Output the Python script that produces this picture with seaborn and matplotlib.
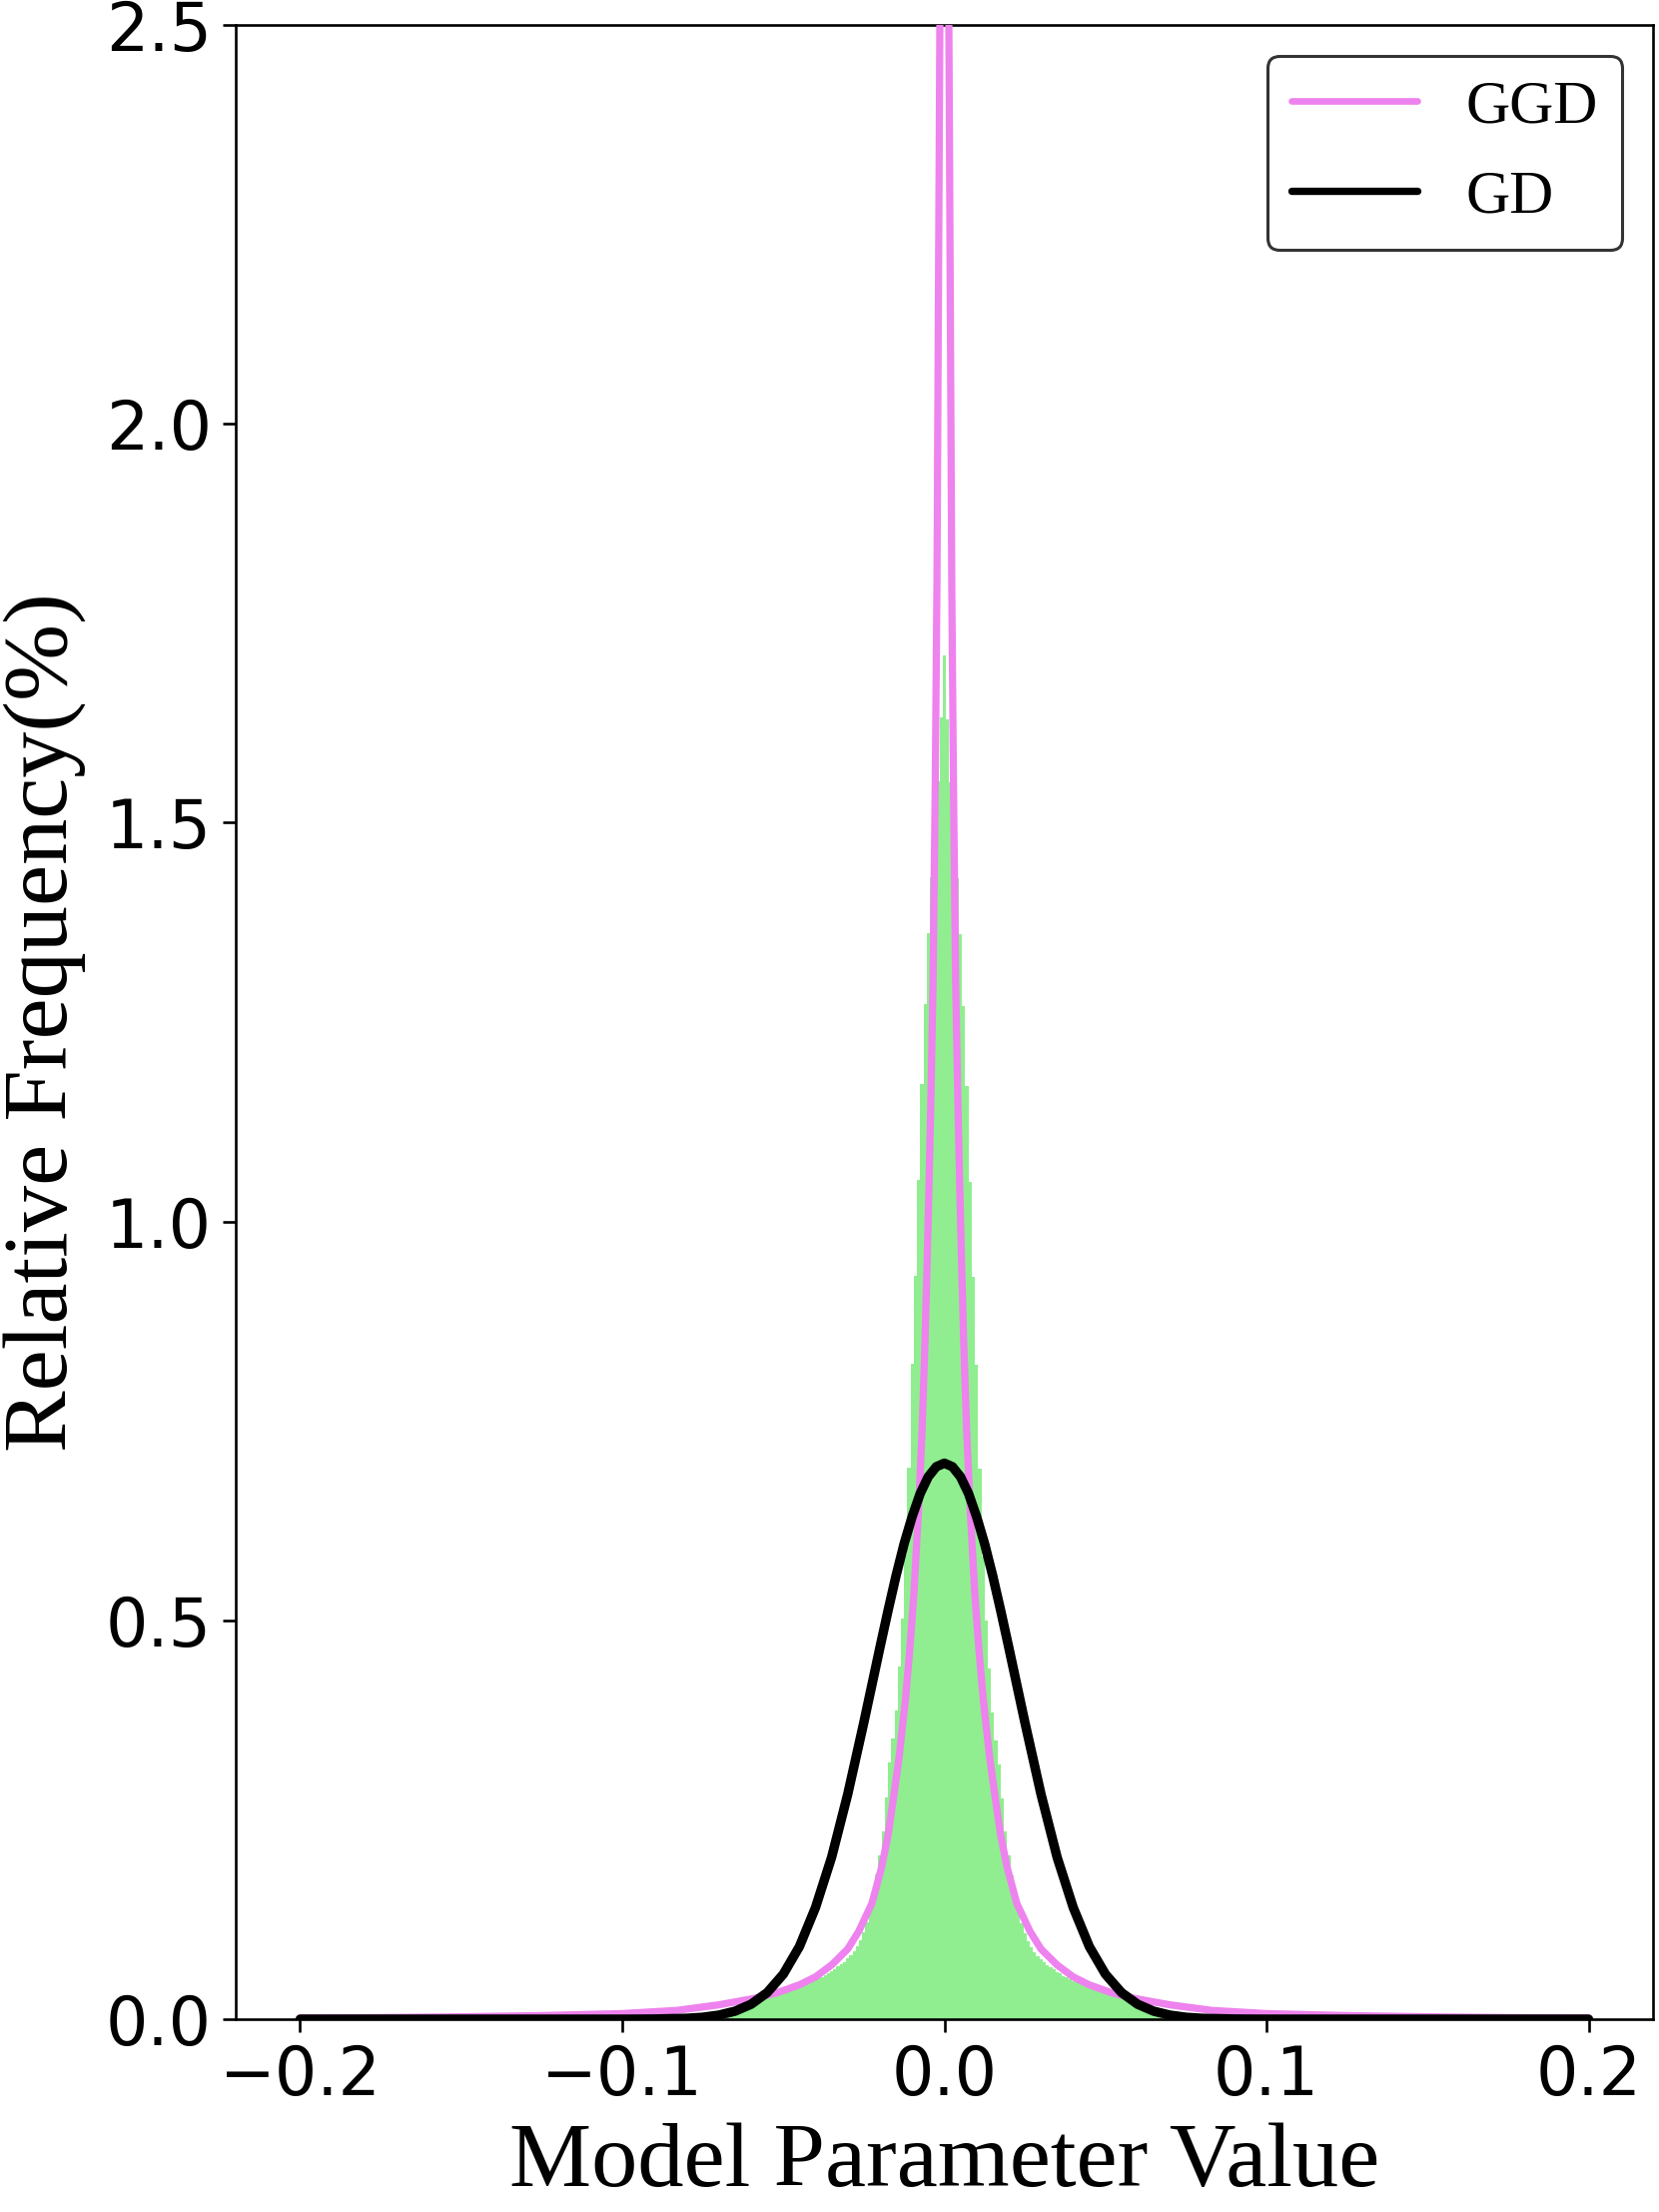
import numpy as np
import pandas as pd
import matplotlib
matplotlib.use("Agg")
import matplotlib.pyplot as plt
import seaborn as sns

# ---------------- data ----------------
# histogram: bin width 0.001, bins centred on k*0.001, k = -67 .. 67
hist_bin_width = 0.001
hist_first_center = -0.067
hist_heights = [
    0.002, 0.005, 0.008, 0.013, 0.020, 0.023, 0.025, 0.027, 0.027, 0.029,
    0.029, 0.031, 0.031, 0.033, 0.033, 0.035, 0.035, 0.037, 0.037, 0.039,
    0.039, 0.041, 0.041, 0.043, 0.044, 0.046, 0.047, 0.049, 0.051, 0.053,
    0.055, 0.058, 0.060, 0.063, 0.066, 0.069, 0.072, 0.076, 0.080, 0.085,
    0.091, 0.099, 0.109, 0.121, 0.136, 0.156, 0.181, 0.206, 0.236, 0.278,
    0.322, 0.352, 0.387, 0.442, 0.502, 0.582, 0.692, 0.822, 0.932, 1.052,
    1.172, 1.272, 1.362, 1.432, 1.492, 1.552, 1.632,
    1.710,
    1.630, 1.550, 1.490, 1.430, 1.360, 1.270, 1.170, 1.050, 0.930, 0.820,
    0.690, 0.580, 0.500, 0.440, 0.385, 0.350, 0.320, 0.277, 0.235, 0.205,
    0.180, 0.155, 0.135, 0.120, 0.108, 0.098, 0.090, 0.084, 0.079, 0.075,
    0.071, 0.068, 0.065, 0.062, 0.059, 0.057, 0.054, 0.052, 0.050, 0.048,
    0.046, 0.045, 0.043, 0.042, 0.041, 0.040, 0.039, 0.038, 0.037, 0.036,
    0.035, 0.034, 0.033, 0.032, 0.031, 0.030, 0.029, 0.028, 0.027, 0.026,
    0.024, 0.022, 0.019, 0.012, 0.007, 0.004, 0.002,
]

# GGD fitted curve
ggd_x = [-0.2, -0.175, -0.15, -0.125, -0.1, -0.083, -0.07, -0.059, -0.052,
         -0.045, -0.040, -0.035, -0.030, -0.0266, -0.0225, -0.0195, -0.0175,
         -0.0157, -0.014, -0.0121, -0.0108, -0.0095, -0.008, -0.0069, -0.006,
         -0.0054, -0.0048, -0.0042, -0.0035, -0.0028, -0.0023, -0.0014,
         -0.001, -0.0005, 0.0,
         0.0005, 0.001, 0.0014, 0.0023, 0.0028, 0.0035, 0.0042, 0.0048,
         0.0054, 0.006, 0.0069, 0.008, 0.0095, 0.0108, 0.0121, 0.014, 0.0157,
         0.0175, 0.0195, 0.0225, 0.0266, 0.030, 0.035, 0.040, 0.045, 0.052,
         0.059, 0.07, 0.083, 0.1, 0.125, 0.15, 0.175, 0.2]
ggd_y = [0.0015, 0.002, 0.003, 0.0045, 0.007, 0.011, 0.018, 0.026, 0.033,
         0.043, 0.053, 0.068, 0.088, 0.110, 0.145, 0.190, 0.230,
         0.280, 0.330, 0.400, 0.460, 0.530, 0.640, 0.740, 0.850,
         0.940, 1.040, 1.150, 1.300, 1.560, 1.800, 2.500,
         2.900, 3.500, 4.500,
         3.500, 2.900, 2.500, 1.800, 1.560, 1.300, 1.150, 1.040,
         0.940, 0.850, 0.740, 0.640, 0.530, 0.460, 0.400, 0.330, 0.280,
         0.230, 0.190, 0.145, 0.110, 0.088, 0.068, 0.053, 0.043, 0.033,
         0.026, 0.018, 0.011, 0.007, 0.0045, 0.003, 0.002, 0.0015]

# GD fitted curve
gd_x = [-0.2, -0.15, -0.1, -0.09, -0.08, -0.075, -0.07, -0.065, -0.06, -0.055,
        -0.05, -0.045, -0.04, -0.035, -0.03, -0.025, -0.02, -0.0175, -0.015,
        -0.0125, -0.01, -0.0075, -0.005, -0.0025, 0.0,
        0.0025, 0.005, 0.0075, 0.01, 0.0125, 0.015, 0.0175, 0.02, 0.025, 0.03,
        0.035, 0.04, 0.045, 0.05, 0.055, 0.06, 0.065, 0.07, 0.075, 0.08, 0.09,
        0.1, 0.15, 0.2]
gd_y = [0.0, 0.0, 0.0, 0.0002, 0.0011, 0.0024, 0.0051, 0.0100, 0.0187, 0.0333,
        0.0564, 0.091, 0.140, 0.203, 0.282, 0.372, 0.466, 0.512, 0.556,
        0.596, 0.630, 0.659, 0.680, 0.6926, 0.697,
        0.6926, 0.680, 0.659, 0.630, 0.596, 0.556, 0.512, 0.466, 0.372, 0.282,
        0.203, 0.140, 0.091, 0.0564, 0.0333, 0.0187, 0.0100, 0.0051, 0.0024,
        0.0011, 0.0002, 0.0, 0.0, 0.0]

series_labels = ["GGD", "GD"]
x_ticks = [-0.2, -0.1, 0.0, 0.1, 0.2]
y_ticks = [0.0, 0.5, 1.0, 1.5, 2.0, 2.5]
x_label = "Model Parameter Value"
y_label = "Relative Frequency(%)"

# ---------------- plotting ----------------
sns.set_style("ticks")
plt.rcParams["font.family"] = ["DejaVu Sans"]
plt.rcParams["axes.linewidth"] = 1.9
plt.rcParams["text.color"] = "black"
plt.rcParams["axes.labelcolor"] = "black"

n_bins = len(hist_heights)
centers = hist_first_center + hist_bin_width * np.arange(n_bins)
hist_df = pd.DataFrame({"x": centers, "h": hist_heights})

fig = plt.figure(figsize=(16.61, 22.14), dpi=100)
ax = fig.add_axes([236 / 1661, 1 - 2021 / 2214,
                   (1655 - 236) / 1661, (2021 - 25) / 2214])

sns.histplot(data=hist_df, x="x", weights="h",
             binwidth=hist_bin_width,
             binrange=(centers[0] - hist_bin_width / 2,
                       centers[-1] + hist_bin_width / 2),
             stat="count", color="#90EE90", alpha=1.0, linewidth=0,
             ax=ax, zorder=1)

ggd_df = pd.DataFrame({"x": ggd_x, "y": ggd_y})
gd_df = pd.DataFrame({"x": gd_x, "y": gd_y})
sns.lineplot(data=ggd_df, x="x", y="y", color="violet", linewidth=5.2,
             estimator=None, sort=True, label=series_labels[0], ax=ax, zorder=3)
sns.lineplot(data=gd_df, x="x", y="y", color="black", linewidth=6.8,
             estimator=None, sort=True, label=series_labels[1], ax=ax, zorder=4)

ax.set_xlim(-0.22, 0.22)
ax.set_ylim(0, 2.5)
ax.set_xticks(x_ticks)
ax.set_yticks(y_ticks)
ax.set_xticklabels([f"{t:.1f}".replace("-", "\u2212") for t in x_ticks])
ax.set_yticklabels([f"{t:.1f}" for t in y_ticks])
ax.tick_params(axis="both", labelsize=48, length=9.4, width=1.9, pad=8,
               colors="black", labelcolor="black", direction="out")
for s in ax.spines.values():
    s.set_visible(True)
    s.set_color("black")
    s.set_linewidth(1.9)

ax.set_xlabel(x_label, fontsize=66.5, family="Liberation Serif", color="black")
ax.set_ylabel(y_label, fontsize=66.5, family="Liberation Serif", color="black")
ax.xaxis.set_label_coords(0.5, -0.052)
ax.yaxis.set_label_coords(-0.106, 0.5)

leg = ax.legend(loc="upper right", prop={"family": "Liberation Serif", "size": 44},
                handlelength=2.05, handletextpad=0.8, labelspacing=0.56,
                borderpad=0.4, frameon=True, fancybox=True,
                edgecolor="black", framealpha=0.8)
leg.get_frame().set_linewidth(2.2)
for txt in leg.get_texts():
    txt.set_color("black")
leg_lines = leg.get_lines()
leg_lines[0].set_linewidth(4.8)
leg_lines[1].set_linewidth(5.3)

fig.savefig("out.png", dpi=100, facecolor="white")
